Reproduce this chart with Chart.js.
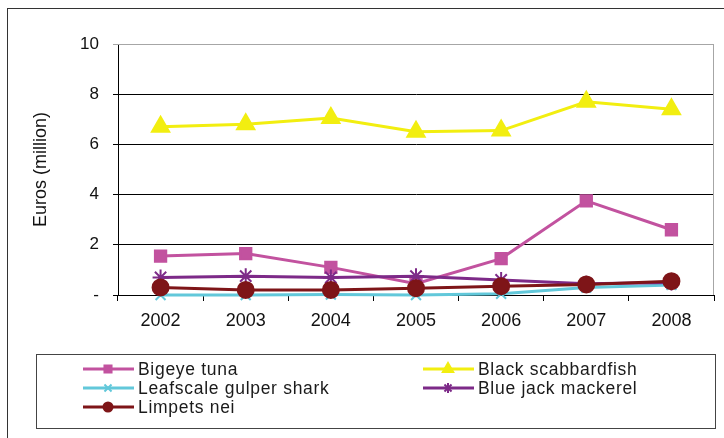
<!DOCTYPE html>
<html>
<head>
<meta charset="UTF-8">
<title>Euros (million)</title>
<script src="https://cdn.jsdelivr.net/npm/chart.js"></script>
<style>
  html, body { margin: 0; padding: 0; background: #fff; }
  #wrap { position: relative; width: 724px; height: 438px; overflow: hidden; font-family: 'Liberation Sans', Arial, sans-serif; }
  #frame { position: absolute; left: 7px; top: 8px; width: 730px; height: 440px; border: 1px solid #333; box-sizing: border-box; }
  #chart { position: absolute; left: 0; top: 0; }
  #legend { position: absolute; left: 36px; top: 354px; width: 680px; height: 75px; border: 1px solid #444; box-sizing: border-box; }
  .item { position: absolute; display: flex; align-items: center; font-size: 17.5px; line-height: 18px; color: #1a1a1a; letter-spacing: 0.7px; }
  .item canvas { margin-right: 4px; }
</style>
</head>
<body>
<div id="wrap">
  <div id="frame"></div>
  <canvas id="chart" width="724" height="438"></canvas>
  <div id="legend"></div>
</div>
<script>
// categories and values (Euros, million)
const years = ['2002', '2003', '2004', '2005', '2006', '2007', '2008'];
const seriesNames = ['Bigeye tuna', 'Black scabbardfish', 'Leafscale gulper shark', 'Blue jack mackerel', 'Limpets nei'];
const bigeyeTuna = [1.55, 1.65, 1.1, 0.45, 1.45, 3.75, 2.6];
const blackScabbardfish = [6.7, 6.8, 7.05, 6.5, 6.55, 7.7, 7.4];
const leafscaleGulperShark = [0, 0, 0.02, 0, 0.05, 0.3, 0.4];
const blueJackMackerel = [0.7, 0.75, 0.7, 0.75, 0.6, 0.45, 0.5];
const limpetsNei = [0.3, 0.2, 0.2, 0.27, 0.35, 0.42, 0.55];
const yTicks = [0, 2, 4, 6, 8, 10];

const styles = [
  { color: '#C2529F', point: 'rect', radius: 8, legendRadius: 5 },
  { color: '#F2EE10', point: 'triangle', radius: 10, legendRadius: 6 },
  { color: '#62C8DA', point: 'crossRot', radius: 7, legendRadius: 5 },
  { color: '#7D2A88', point: 'star', radius: 8, legendRadius: 5 },
  { color: '#7E1518', point: 'circle', radius: 8, legendRadius: 4.5 }
];
const values = [bigeyeTuna, blackScabbardfish, leafscaleGulperShark, blueJackMackerel, limpetsNei];

const datasets = values.map((v, i) => ({
  label: seriesNames[i],
  data: v,
  borderColor: styles[i].color,
  backgroundColor: styles[i].color,
  borderWidth: 3,
  pointStyle: styles[i].point,
  pointRadius: styles[i].radius,
  pointBorderWidth: 2,
  pointBorderColor: styles[i].color,
  pointBackgroundColor: styles[i].color,
  tension: 0,
  clip: false,
  order: values.length - 1 - i
}));

// grey frame on top/right of plot area
const plotFrame = {
  id: 'plotFrame',
  beforeDatasetsDraw(chart) {
    const a = chart.chartArea, ctx = chart.ctx;
    ctx.save();
    ctx.strokeStyle = '#A6A6A6';
    ctx.lineWidth = 1;
    ctx.beginPath();
    ctx.moveTo(a.left, a.top + 0.5);
    ctx.lineTo(a.right - 0.5, a.top + 0.5);
    ctx.lineTo(a.right - 0.5, a.bottom);
    ctx.stroke();
    ctx.restore();
  }
};

new Chart(document.getElementById('chart'), {
  type: 'line',
  data: { labels: years, datasets },
  options: {
    responsive: false,
    animation: false,
    layout: { autoPadding: false, padding: { left: 30, right: 10, top: 44, bottom: 100 } },
    plugins: { legend: { display: false }, tooltip: { enabled: false } },
    scales: {
      x: {
        offset: true,
        grid: { offset: true, drawOnChartArea: false, color: '#000', tickLength: 6, tickWidth: 1 },
        border: { color: '#000', width: 1 },
        ticks: { color: '#111', font: { family: 'Liberation Sans', size: 18 }, padding: 9, maxRotation: 0 },
        afterFit: s => { s.height = 43; s.paddingRight = 0; s.paddingLeft = 0; }
      },
      y: {
        min: 0, max: 10,
        afterBuildTicks: s => { s.ticks = yTicks.map(v => ({ value: v })); },
        grid: { color: ctx => ctx.tick && ctx.tick.value === 10 ? '#A6A6A6' : '#000', tickLength: 5, lineWidth: 1 },
        border: { color: '#000', width: 1 },
        ticks: { color: '#111', font: { family: 'Liberation Sans', size: 17 }, padding: 14,
                 callback: v => v === 0 ? '-' : v },
        title: { display: true, text: 'Euros (million)', color: '#111', font: { family: 'Liberation Sans', size: 18 }, padding: { top: 0, bottom: 4 } },
        afterFit: s => { s.width = 88; }
      }
    }
  },
  plugins: [plotFrame]
});

// legend in a box, two columns
const legend = document.getElementById('legend');
const pos = [[46, 5], [386, 5], [46, 24], [386, 24], [46, 43]];
datasets.forEach((d, i) => {
  const item = document.createElement('div');
  item.className = 'item';
  item.style.left = pos[i][0] + 'px';
  item.style.top = pos[i][1] + 'px';
  const c = document.createElement('canvas');
  c.width = 51; c.height = 16;
  const g = c.getContext('2d');
  g.strokeStyle = d.borderColor; g.lineWidth = 3;
  g.beginPath(); g.moveTo(0, 8); g.lineTo(51, 8); g.stroke();
  g.fillStyle = d.borderColor; g.lineWidth = 2;
  Chart.helpers.drawPoint(g, { pointStyle: d.pointStyle, radius: styles[i].legendRadius, borderWidth: 2 }, 25, 8);
  item.appendChild(c);
  const t = document.createElement('span');
  t.textContent = d.label;
  item.appendChild(t);
  legend.appendChild(item);
});
</script>
</body>
</html>
